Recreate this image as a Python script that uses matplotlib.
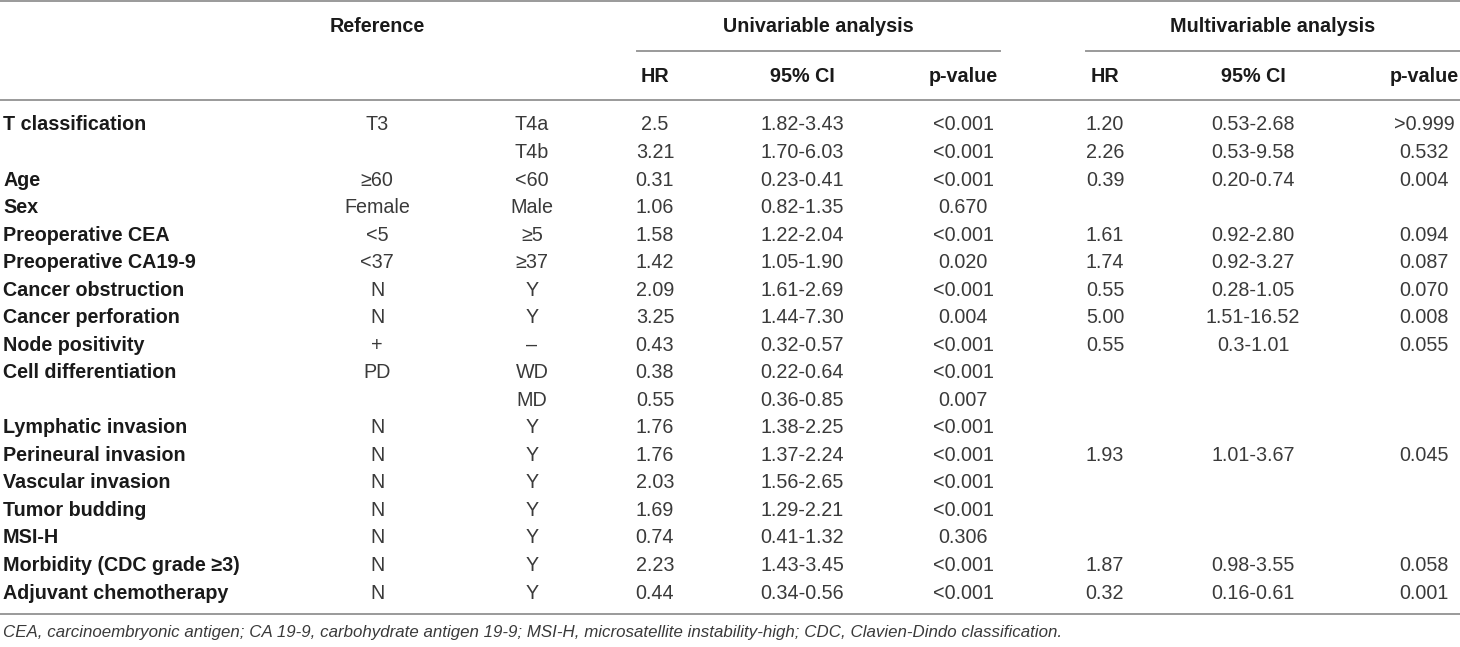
"""
Cox regression table: univariable and multivariable analysis, drawn as text.
"""

import matplotlib
matplotlib.use("Agg")
import matplotlib.pyplot as plt

# =============================================================================
# Table data
# =============================================================================
variables = ["T classification", "", "Age", "Sex", "Preoperative CEA",
             "Preoperative CA19-9", "Cancer obstruction", "Cancer perforation",
             "Node positivity", "Cell differentiation", "", "Lymphatic invasion",
             "Perineural invasion", "Vascular invasion", "Tumor budding", "MSI-H",
             "Morbidity (CDC grade \u22653)", "Adjuvant chemotherapy"]
reference = ["T3", "", "\u226560", "Female", "<5", "<37", "N", "N", "+", "PD", "",
             "N", "N", "N", "N", "N", "N", "N"]
compared = ["T4a", "T4b", "<60", "Male", "\u22655", "\u226537", "Y", "Y", "\u2013",
            "WD", "MD", "Y", "Y", "Y", "Y", "Y", "Y", "Y"]

uni_hr = ["2.5", "3.21", "0.31", "1.06", "1.58", "1.42", "2.09", "3.25", "0.43",
          "0.38", "0.55", "1.76", "1.76", "2.03", "1.69", "0.74", "2.23", "0.44"]
uni_ci = ["1.82-3.43", "1.70-6.03", "0.23-0.41", "0.82-1.35", "1.22-2.04",
          "1.05-1.90", "1.61-2.69", "1.44-7.30", "0.32-0.57", "0.22-0.64",
          "0.36-0.85", "1.38-2.25", "1.37-2.24", "1.56-2.65", "1.29-2.21",
          "0.41-1.32", "1.43-3.45", "0.34-0.56"]
uni_p = ["<0.001", "<0.001", "<0.001", "0.670", "<0.001", "0.020", "<0.001",
         "0.004", "<0.001", "<0.001", "0.007", "<0.001", "<0.001", "<0.001",
         "<0.001", "0.306", "<0.001", "<0.001"]

multi_hr = ["1.20", "2.26", "0.39", "", "1.61", "1.74", "0.55", "5.00", "0.55",
            "", "", "", "1.93", "", "", "", "1.87", "0.32"]
multi_ci = ["0.53-2.68", "0.53-9.58", "0.20-0.74", "", "0.92-2.80", "0.92-3.27",
            "0.28-1.05", "1.51-16.52", "0.3-1.01", "", "", "", "1.01-3.67", "",
            "", "", "0.98-3.55", "0.16-0.61"]
multi_p = [">0.999", "0.532", "0.004", "", "0.094", "0.087", "0.070", "0.008",
           "0.055", "", "", "", "0.045", "", "", "", "0.058", "0.001"]

sub_headers = ["HR", "95% CI", "p-value", "HR", "95% CI", "p-value"]
footnote = ("CEA, carcinoembryonic antigen; CA 19-9, carbohydrate antigen 19-9; "
            "MSI-H, microsatellite instability-high; CDC, Clavien-Dindo classification.")

# =============================================================================
# Layout (pixel coordinates)
# =============================================================================
W, H = 1460, 647
FONT = ["Liberation Sans", "DejaVu Sans"]
TEXT = "#3a3a3a"
BOLD = "#1a1a1a"
RULE = "#9a9a9a"
FS = 14.2

col_x = [377, 532, 655, 802, 963, 1105, 1253, 1424]
row_y0, row_dy = 125, 27.53

fig = plt.figure(figsize=(W / 100, H / 100), dpi=100)
fig.patch.set_facecolor("white")
ax = fig.add_axes([0, 0, 1, 1])
ax.set_xlim(0, W)
ax.set_ylim(H, 0)
ax.axis("off")

# Rules
ax.plot([0, W], [1, 1], color=RULE, lw=1.4)
ax.plot([637, 1000], [51, 51], color=RULE, lw=1.4)
ax.plot([1086, W], [51, 51], color=RULE, lw=1.4)
ax.plot([0, W], [99.5, 99.5], color=RULE, lw=1.4)
ax.plot([0, W], [614, 614], color=RULE, lw=1.4)

# Group headers
hdr = dict(fontsize=FS, fontweight="bold", color=BOLD, family=FONT,
           ha="center", va="center")
ax.text(377, 27, "Reference", **hdr)
ax.text(818, 27, "Univariable analysis", **hdr)
ax.text(1273, 27, "Multivariable analysis", **hdr)
for x, s in zip(col_x[2:], sub_headers):
    ax.text(x, 76, s, **hdr)

# Body
cols = [reference, compared, uni_hr, uni_ci, uni_p, multi_hr, multi_ci, multi_p]
for i, name in enumerate(variables):
    y = row_y0 + i * row_dy
    if name:
        ax.text(3, y, name, fontsize=FS, fontweight="bold", color=BOLD,
                family=FONT, ha="left", va="center")
    for x, col in zip(col_x, cols):
        if col[i]:
            ax.text(x, y, col[i], fontsize=FS, color=TEXT, family=FONT,
                    ha="center", va="center")

ax.text(3, 632, footnote, fontsize=12.2, style="italic", color=TEXT,
        family=FONT, ha="left", va="center")

fig.savefig("out.png", dpi=100, facecolor="white")
